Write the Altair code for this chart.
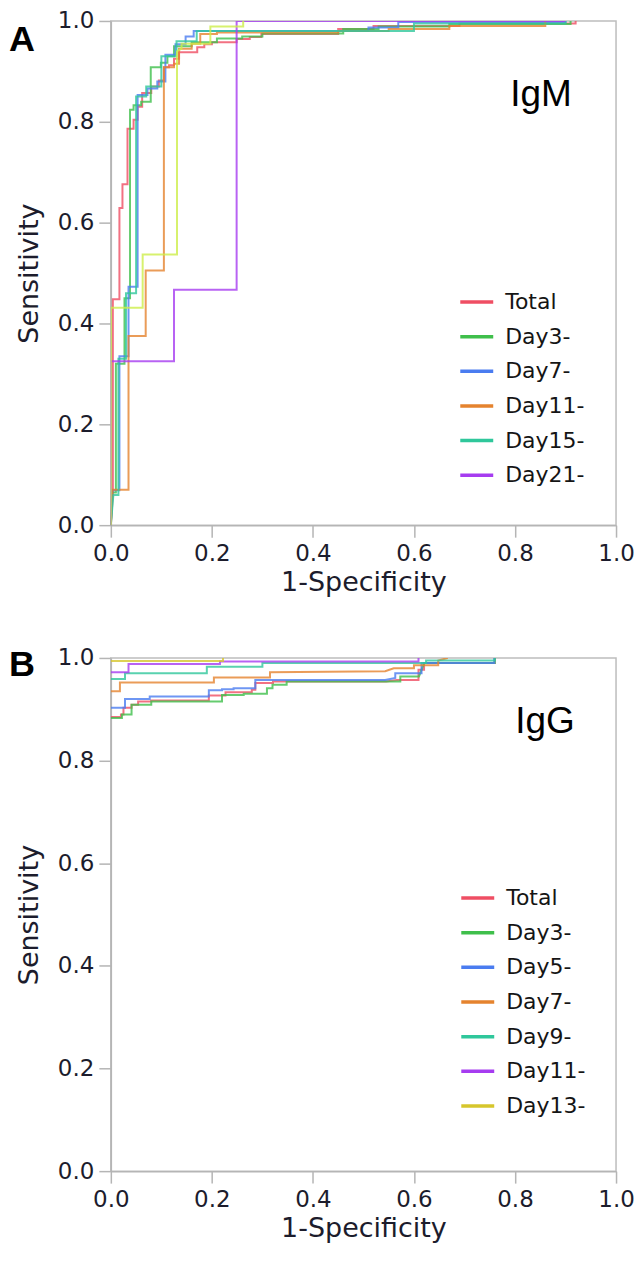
import altair as alt
import pandas as pd

# ---------------- Panel A : IgM ----------------
a_names = ["Total", "Day3-", "Day7-", "Day11-", "Day15-", "Day21-"]
a_colors = ["#EF4E63", "#3FBF4B", "#4A7CF0", "#E5832E", "#2FC79B", "#A63CF0"]
a_extra_name = "Other"          # unlabeled lime curve drawn in the figure
a_extra_color = "#CDEE4A"

a_total_fpr = [0, 0.004, 0.004, 0.017, 0.017, 0.023, 0.023, 0.033, 0.033, 0.045, 0.045, 0.053, 0.053, 0.062, 0.062, 0.08, 0.08, 0.095, 0.095, 0.105, 0.105, 0.115, 0.115, 0.125, 0.125, 0.135, 0.135, 0.171, 0.171, 0.185, 0.185, 0.2, 0.2, 0.249, 0.249, 0.275, 0.275, 0.298, 0.298, 0.45, 0.45, 0.52, 0.52, 0.69, 0.69, 0.92, 0.92]
a_total_sens = [0, 0.06, 0.448, 0.448, 0.629, 0.629, 0.676, 0.676, 0.786, 0.786, 0.804, 0.804, 0.83, 0.83, 0.857, 0.857, 0.87, 0.87, 0.882, 0.882, 0.908, 0.908, 0.912, 0.912, 0.925, 0.925, 0.938, 0.938, 0.948, 0.948, 0.954, 0.954, 0.958, 0.958, 0.964, 0.964, 0.968, 0.968, 0.974, 0.974, 0.984, 0.984, 0.99, 0.99, 0.995, 0.995, 1.0]

a_day3_fpr = [0, 0.002, 0.01, 0.01, 0.027, 0.027, 0.038, 0.038, 0.045, 0.045, 0.06, 0.06, 0.079, 0.079, 0.099, 0.099, 0.112, 0.112, 0.125, 0.125, 0.16, 0.16, 0.21, 0.21, 0.26, 0.26, 0.3, 0.3, 0.46, 0.46, 0.53, 0.53, 0.67, 0.67, 0.91, 0.91]
a_day3_sens = [0, 0.065, 0.065, 0.32, 0.32, 0.45, 0.45, 0.824, 0.824, 0.833, 0.833, 0.84, 0.84, 0.908, 0.908, 0.917, 0.917, 0.93, 0.93, 0.95, 0.95, 0.958, 0.958, 0.965, 0.965, 0.969, 0.969, 0.975, 0.975, 0.984, 0.984, 0.989, 0.989, 0.994, 0.994, 1.0]

a_day7_fpr = [0, 0.003, 0.017, 0.017, 0.035, 0.035, 0.053, 0.053, 0.0725, 0.0725, 0.092, 0.092, 0.108, 0.108, 0.128, 0.128, 0.148, 0.148, 0.164, 0.164, 0.51, 0.51, 0.569, 0.569, 0.9, 0.9]
a_day7_sens = [0, 0.069, 0.069, 0.335, 0.335, 0.473, 0.473, 0.853, 0.853, 0.866, 0.866, 0.88, 0.88, 0.933, 0.933, 0.954, 0.954, 0.969, 0.969, 0.98, 0.98, 0.987, 0.987, 0.998, 0.998, 1.0]

a_day11_fpr = [0, 0.003, 0.035, 0.035, 0.069, 0.069, 0.105, 0.105, 0.125, 0.125, 0.135, 0.135, 0.16, 0.16, 0.177, 0.177, 0.21, 0.21, 0.45, 0.45, 0.55, 0.55, 0.67, 0.67, 0.86, 0.86]
a_day11_sens = [0, 0.07, 0.07, 0.375, 0.375, 0.505, 0.505, 0.908, 0.908, 0.915, 0.915, 0.945, 0.945, 0.955, 0.955, 0.974, 0.974, 0.977, 0.977, 0.98, 0.98, 0.984, 0.984, 0.99, 0.99, 1.0]

a_day15_fpr = [0, 0.005, 0.015, 0.015, 0.03, 0.03, 0.05, 0.05, 0.07, 0.07, 0.1, 0.1, 0.13, 0.13, 0.17, 0.17, 0.6, 0.6, 0.9, 0.9]
a_day15_sens = [0, 0.06, 0.06, 0.33, 0.33, 0.46, 0.46, 0.85, 0.85, 0.87, 0.87, 0.93, 0.93, 0.96, 0.96, 0.98, 0.98, 0.995, 0.995, 1.0]

a_day21_fpr = [0, 0, 0.125, 0.125, 0.249, 0.249, 0.9]
a_day21_sens = [0, 0.325, 0.325, 0.467, 0.467, 1.0, 1.0]

a_other_fpr = [0, 0, 0.063, 0.063, 0.131, 0.131, 0.14, 0.14, 0.197, 0.197, 0.262, 0.262]
a_other_sens = [0, 0.431, 0.431, 0.537, 0.537, 0.94, 0.945, 0.955, 0.955, 0.989, 0.989, 1.0]

# ---------------- Panel B : IgG ----------------
b_names = ["Total", "Day3-", "Day5-", "Day7-", "Day9-", "Day11-", "Day13-"]
b_colors = ["#EF4E63", "#3FBF4B", "#4A7CF0", "#E5832E", "#2FC79B", "#A63CF0", "#D6C62C"]

b_total_fpr = [0, 0.02, 0.02, 0.025, 0.025, 0.041, 0.041, 0.054, 0.054, 0.08, 0.08, 0.194, 0.194, 0.227, 0.227, 0.279, 0.279, 0.286, 0.286, 0.321, 0.321, 0.545, 0.566, 0.609, 0.609, 0.62, 0.62, 0.76, 0.76]
b_total_sens = [0.885, 0.885, 0.89, 0.89, 0.903, 0.903, 0.909, 0.909, 0.915, 0.915, 0.917, 0.917, 0.927, 0.927, 0.933, 0.933, 0.938, 0.938, 0.951, 0.951, 0.954, 0.954, 0.957, 0.957, 0.977, 0.977, 0.99, 0.99, 1.0]

b_day3_fpr = [0, 0.022, 0.022, 0.041, 0.041, 0.08, 0.08, 0.22, 0.22, 0.263, 0.263, 0.309, 0.309, 0.32, 0.32, 0.348, 0.348, 0.573, 0.573, 0.61, 0.62, 0.76, 0.76]
b_day3_sens = [0.883, 0.883, 0.89, 0.89, 0.909, 0.909, 0.915, 0.915, 0.928, 0.928, 0.93, 0.93, 0.941, 0.941, 0.948, 0.948, 0.954, 0.954, 0.964, 0.964, 0.99, 0.99, 1.0]

b_day5_fpr = [0, 0.028, 0.028, 0.077, 0.077, 0.194, 0.194, 0.22, 0.22, 0.243, 0.243, 0.286, 0.286, 0.543, 0.563, 0.563, 0.615, 0.615, 0.759, 0.759]
b_day5_sens = [0.903, 0.903, 0.92, 0.92, 0.925, 0.925, 0.937, 0.937, 0.939, 0.939, 0.941, 0.941, 0.957, 0.957, 0.961, 0.97, 0.97, 0.99, 0.99, 1.0]

b_day7_fpr = [0, 0.018, 0.018, 0.204, 0.204, 0.315, 0.315, 0.543, 0.56, 0.6, 0.6, 0.648, 0.648, 0.667]
b_day7_sens = [0.935, 0.935, 0.952, 0.952, 0.962, 0.962, 0.972, 0.974, 0.98, 0.98, 0.986, 0.986, 0.995, 1.0]

b_day9_fpr = [0, 0.028, 0.028, 0.19, 0.19, 0.30, 0.30, 0.624, 0.624, 0.76, 0.76]
b_day9_sens = [0.959, 0.959, 0.97, 0.97, 0.983, 0.983, 0.99, 0.99, 0.995, 0.995, 1.0]

b_day11_fpr = [0, 0.035, 0.035, 0.216, 0.216, 0.609, 0.609]
b_day11_sens = [0.972, 0.972, 0.988, 0.988, 0.993, 0.993, 1.0]

b_day13_fpr = [0, 0.222, 0.222]
b_day13_sens = [0.994, 0.994, 1.0]

tick_values = [0.0, 0.2, 0.4, 0.6, 0.8, 1.0]
panel_letters = ["A", "B"]
panel_tags = ["IgM", "IgG"]

FONT = "DejaVu Sans"


def frame(names, fprs, senss):
    rows = []
    for n, xs, ys in zip(names, fprs, senss):
        for i, (x, y) in enumerate(zip(xs, ys)):
            rows.append({"series": n, "fpr": x, "sens": y, "i": i})
    return pd.DataFrame(rows)


def panel(df, domain, colors, legend_vals, letter, tag, tag_x, tag_y, leg_x, leg_y, letter_y, h):
    lines = alt.Chart(df).mark_line(strokeWidth=2, opacity=0.8, clip=True).encode(
        x=alt.X("fpr:Q", scale=alt.Scale(domain=[0, 1], nice=False),
                axis=alt.Axis(values=tick_values, format=".1f", title="1-Specificity",
                              titlePadding=4, labelFlush=False)),
        y=alt.Y("sens:Q", scale=alt.Scale(domain=[0, 1], nice=False),
                axis=alt.Axis(values=tick_values, format=".1f", title="Sensitivity",
                              titlePadding=14, labelFlush=False)),
        color=alt.Color("series:N", scale=alt.Scale(domain=domain, range=colors),
                        legend=alt.Legend(values=legend_vals, orient="none", legendX=leg_x, legendY=leg_y,
                                          title=None, symbolType="stroke", symbolSize=1089,
                                          symbolStrokeWidth=3.5, symbolOpacity=1, labelFont=FONT,
                                          labelFontSize=22, labelColor="#151515", labelOffset=10,
                                          rowPadding=4.7, padding=0)),
        order="i:Q",
    )
    letter_mark = alt.Chart(pd.DataFrame({"t": [letter]})).mark_text(
        align="left", baseline="middle", font="Liberation Sans", fontSize=36,
        fontWeight="bold", color="black").encode(x=alt.value(-102), y=alt.value(letter_y), text="t:N")
    tag_mark = alt.Chart(pd.DataFrame({"t": [tag]})).mark_text(
        align="left", baseline="alphabetic", font="Liberation Sans", fontSize=37,
        color="black").encode(x=alt.value(tag_x), y=alt.value(tag_y), text="t:N")
    return alt.layer(lines, letter_mark, tag_mark).properties(width=506, height=h)


df_a = frame(a_names + [a_extra_name],
             [a_total_fpr, a_day3_fpr, a_day7_fpr, a_day11_fpr, a_day15_fpr, a_day21_fpr, a_other_fpr],
             [a_total_sens, a_day3_sens, a_day7_sens, a_day11_sens, a_day15_sens, a_day21_sens, a_other_sens])
df_b = frame(b_names,
             [b_total_fpr, b_day3_fpr, b_day5_fpr, b_day7_fpr, b_day9_fpr, b_day11_fpr, b_day13_fpr],
             [b_total_sens, b_day3_sens, b_day5_sens, b_day7_sens, b_day9_sens, b_day11_sens, b_day13_sens])

pa = panel(df_a, a_names + [a_extra_name], a_colors + [a_extra_color], a_names,
           panel_letters[0], panel_tags[0], 400, 85, 348, 263, 19, 505)
pb = panel(df_b, b_names, b_colors, b_names,
           panel_letters[1], panel_tags[1], 405, 75, 349, 222, 7, 514)

chart = alt.vconcat(pa, pb, spacing=50).resolve_scale(color="independent").properties(
    padding=0
).configure_view(stroke="#BDBDBD", strokeWidth=1.5).configure_axis(
    domainColor="#B5B5B5", domainWidth=1.5, tickColor="#B5B5B5", tickWidth=1.5, tickSize=12,
    labelFont=FONT, labelFontSize=23, labelColor="#1c1c2c", labelPadding=5,
    titleFont=FONT, titleFontSize=27, titleFontWeight="normal", titleColor="#1c1c2c", grid=False,
)

chart.save("out.html", embed_options={"renderer": "svg", "actions": False})
